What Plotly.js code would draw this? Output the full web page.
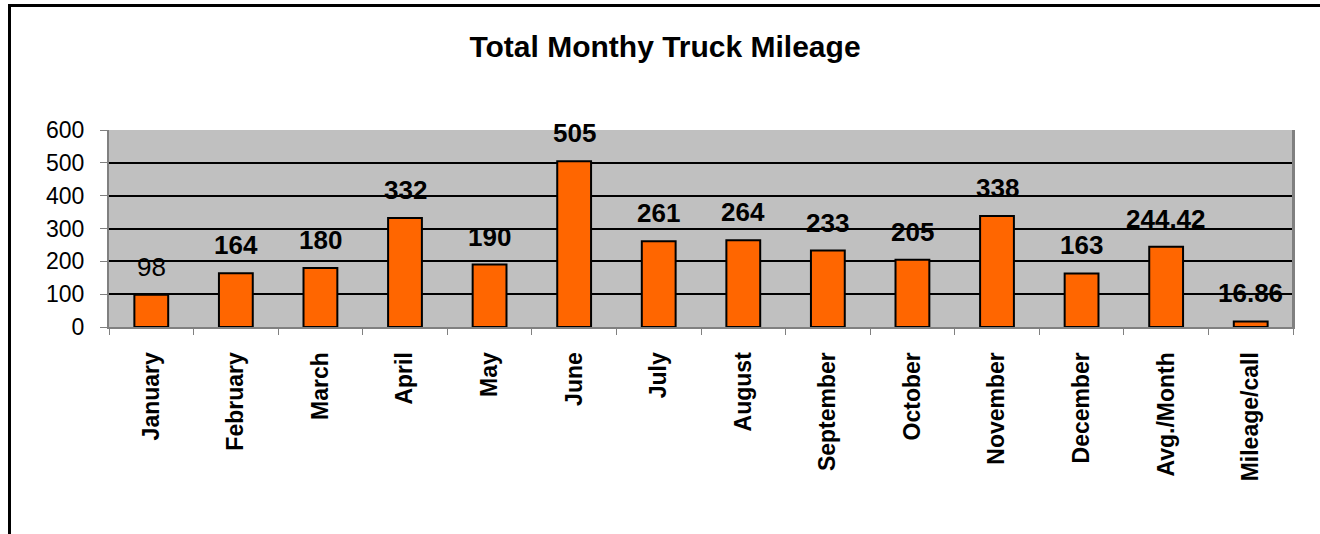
<!DOCTYPE html>
<html>
<head>
<meta charset="utf-8">
<script src="https://cdn.plot.ly/plotly-3.0.1.min.js"></script>
<style>
html,body{margin:0;padding:0;background:#fff;overflow:hidden;}
#wrap{position:relative;width:1320px;height:534px;overflow:hidden;}
#chart{width:1320px;height:534px;}
#frame{position:absolute;left:8px;top:4px;width:1400px;height:600px;border-left:3px solid #000;border-top:3px solid #000;pointer-events:none;box-sizing:border-box;}
</style>
</head>
<body>
<div id="wrap"><div id="chart"></div><div id="frame"></div></div>
<script>
const categories = ["January","February","March","April","May","June","July","August","September","October","November","December","Avg./Month","Mileage/call"];
const mileage = [98,164,180,332,190,505,261,264,233,205,338,163,244.42,16.86];
const valueLabels = ["98","164","180","332","190","505","261","264","233","205","338","163","244.42","16.86"];
const boldLabel = [false,true,true,true,true,true,true,true,true,true,true,true,true,true];
const yTicks = [0,100,200,300,400,500,600];

const FONT = "Liberation Sans, Arial, Helvetica, sans-serif";
const W = 1320, H = 534;
const M = {l:109, r:27, t:130, b:207};

const trace = {
  type: "bar",
  x: categories,
  y: mileage,
  marker: {color: "#FF6600", line: {color: "#000000", width: 2}},
  hoverinfo: "x+y"
};

const annotations = categories.map((c, i) => ({
  x: c, y: mileage[i], xref: "x", yref: "y",
  text: boldLabel[i] ? "<b>" + valueLabels[i] + "</b>" : valueLabels[i],
  showarrow: false, xanchor: "center", yanchor: "bottom", yshift: 11,
  font: {family: FONT, size: 26, color: "#000"}
}));

const layout = {
  width: W, height: H,
  margin: M,
  paper_bgcolor: "#ffffff",
  plot_bgcolor: "#C0C0C0",
  showlegend: false,
  bargap: 0.6,
  title: {
    text: "<b>Total Monthy Truck Mileage</b>",
    font: {family: FONT, size: 30, color: "#000"},
    x: 665 / W, xanchor: "center", xref: "container",
    y: (H - 46) / H, yanchor: "middle", yref: "container"
  },
  xaxis: {
    type: "category",
    tickson: "boundaries",
    ticks: "outside", ticklen: 6, tickcolor: "#808080", tickwidth: 1,
    showline: true, linecolor: "#808080", linewidth: 2,
    mirror: false,
    showgrid: false,
    tickangle: -90,
    ticklabelstandoff: 14,
    tickfont: {family: FONT, size: 23, color: "#000", weight: "bold"}
  },
  yaxis: {
    range: [0, 600],
    tickvals: yTicks,
    ticktext: yTicks.map(String),
    ticks: "outside", ticklen: 7, tickcolor: "#808080", tickwidth: 1,
    showline: true, linecolor: "#808080", linewidth: 2, mirror: true,
    showgrid: true, gridcolor: "#000000", gridwidth: 2,
    zeroline: false,
    ticklabelstandoff: 11,
    tickfont: {family: FONT, size: 23, color: "#000"}
  },
  annotations: annotations,
  shapes: [
    {type: "line", xref: "paper", yref: "paper", x0: 1, x1: 1, y0: 0, y1: 1, line: {color: "#808080", width: 2}}
  ]
};

Plotly.newPlot("chart", [trace], layout, {displayModeBar: false, staticPlot: true});
</script>
</body>
</html>
